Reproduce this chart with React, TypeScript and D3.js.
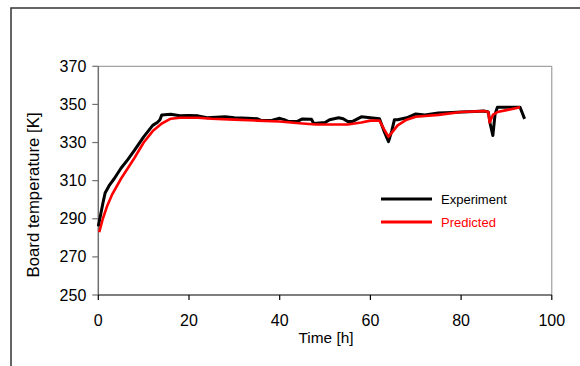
import React from "react";
import * as d3 from "d3";

const expTime = [0, 0.5, 1, 1.5, 2.5, 3.5, 5, 6.5, 8, 10, 12, 13, 13.6, 14, 16, 18, 20, 22, 24, 26, 28, 30, 33, 35, 36, 38, 40, 41, 42, 44, 45, 47, 47.5, 50, 51, 53, 54, 55, 56, 58, 60, 62, 63, 64, 64.7, 65.3, 66, 68, 70, 72, 75, 78, 80, 83, 85, 86, 86.4, 87, 87.5, 88, 90, 93, 94];
const expTemp = [286, 292, 298, 303.5, 307.8, 311, 316.5, 321, 326, 333, 339, 340.5, 342, 344.5, 344.8, 344, 344.2, 344, 343, 343.3, 343.5, 343, 342.8, 342.5, 341.5, 341.5, 342.7, 342, 341, 341.2, 342.4, 342.2, 340, 340.5, 342, 343, 342.5, 341, 341, 343.5, 343, 342.5, 336, 330.5, 336, 342, 342, 343, 345, 344.5, 345.5, 345.8, 346, 346.3, 346.5, 346, 340, 333.7, 345, 348.5, 348.5, 348.5, 342.4];

const predTime = [0.2, 1, 2, 3, 5, 8, 10, 12, 14, 16, 18, 22, 25, 30, 35, 40, 45, 48, 55, 58, 60, 62, 63, 64, 65, 66, 68, 70, 75, 80, 85, 86, 86.3, 87, 88, 90, 93];
const predTemp = [283, 290, 297, 302.5, 311, 322, 330, 336, 340, 342.5, 343, 343, 342.5, 342, 341.5, 341, 340, 339.5, 339.5, 340.5, 341.5, 341.5, 337, 333, 336, 339, 342, 343.5, 344.5, 346, 346.5, 346, 340.5, 344.5, 346, 347, 348.5];

const xTicks = [0, 20, 40, 60, 80, 100];
const yTicks = [250, 270, 290, 310, 330, 350, 370];
const seriesNames = ["Experiment", "Predicted"];
const seriesColors = ["#000000", "#ff0000"];

export default function App() {
  const W = 580, H = 366;
  const left = 98.3, right = 551.8, top = 66.3, bottom = 295;
  const x = d3.scaleLinear().domain([0, 100]).range([left, right]);
  const y = d3.scaleLinear().domain([250, 370]).range([bottom, top]);
  const line = d3.line<[number, number]>().x(d => x(d[0])).y(d => y(d[1]));
  const expPts = expTime.map((t, i) => [t, expTemp[i]] as [number, number]);
  const predPts = predTime.map((t, i) => [t, predTemp[i]] as [number, number]);
  const font = "'Liberation Sans', Arial, sans-serif";
  return (
    <svg width={W} height={H} style={{ position: "absolute", left: 0, top: 0, background: "#fff" }} fontFamily={font}>
      <rect x={0} y={0} width={W} height={H} fill="#fff" />
      {/* outer frame */}
      <path d={`M11,${H + 2} V8 H${W + 2}`} fill="none" stroke="#333" strokeWidth={1.5} />
      {/* plot border */}
      <path d={`M${left},${top} H${right} V${bottom}`} fill="none" stroke="#8c8c8c" strokeWidth={1} />
      {/* y axis */}
      <line x1={left} x2={left} y1={top} y2={bottom} stroke="#707070" strokeWidth={1.5} />
      {yTicks.map(v => (
        <g key={v}>
          <line x1={left - 6} x2={left} y1={y(v)} y2={y(v)} stroke="#707070" strokeWidth={1.2} />
          <text x={left - 12} y={y(v) + 5.6} textAnchor="end" fontSize={16} fill="#000">{v}</text>
        </g>
      ))}
      {/* x axis */}
      <line x1={left} x2={right} y1={bottom} y2={bottom} stroke="#000" strokeWidth={1.2} />
      {xTicks.map(v => (
        <g key={v}>
          <line x1={x(v)} x2={x(v)} y1={bottom} y2={bottom + 5} stroke="#000" strokeWidth={1.2} />
          <text x={x(v)} y={326} textAnchor="middle" fontSize={16} fill="#000">{v}</text>
        </g>
      ))}
      <text x={326} y={343} textAnchor="middle" fontSize={15.4} fill="#000">Time [h]</text>
      <text transform={`translate(39,195) rotate(-90)`} textAnchor="middle" fontSize={16.8} fill="#000">Board temperature [K]</text>
      {/* series */}
      <path d={line(expPts) || ""} fill="none" stroke={seriesColors[0]} strokeWidth={3} strokeLinejoin="round" />
      <path d={line(predPts) || ""} fill="none" stroke={seriesColors[1]} strokeWidth={2.6} strokeLinejoin="round" />
      {/* legend */}
      {seriesNames.map((n, i) => (
        <g key={n}>
          <line x1={381} x2={432} y1={199 + i * 23} y2={199 + i * 23} stroke={seriesColors[i]} strokeWidth={3} />
          <text x={441} y={199 + i * 23 + 4.5} fontSize={13} fill={seriesColors[i]}>{n}</text>
        </g>
      ))}
    </svg>
  );
}
